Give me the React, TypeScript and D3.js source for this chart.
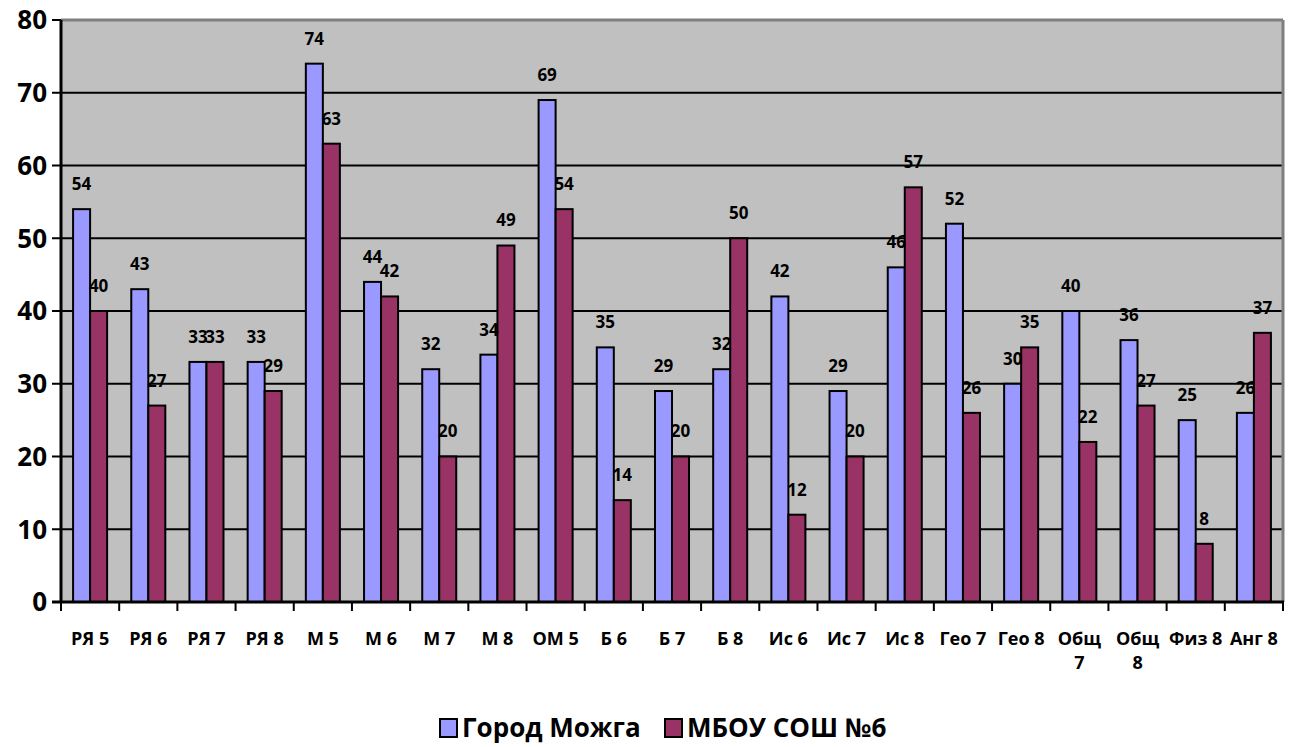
import { scaleBand, scaleLinear, range } from "d3";

const width = 1292;
const height = 747;

const categories = [
  "РЯ 5", "РЯ 6", "РЯ 7", "РЯ 8", "М 5", "М 6", "М 7", "М 8", "ОМ 5", "Б 6",
  "Б 7", "Б 8", "Ис 6", "Ис 7", "Ис 8", "Гео 7", "Гео 8", "Общ 7", "Общ 8",
  "Физ 8", "Анг 8",
];
const gorod = [54, 43, 33, 33, 74, 44, 32, 34, 69, 35, 29, 32, 42, 29, 46, 52, 30, 40, 36, 25, 26];
const shkola = [40, 27, 33, 29, 63, 42, 20, 49, 54, 14, 20, 50, 12, 20, 57, 26, 35, 22, 27, 8, 37];
const seriesNames = ["Город Можга", "МБОУ СОШ №6"];
const seriesColors = ["#9999FF", "#993366"];
const yTicks = [0, 10, 20, 30, 40, 50, 60, 70, 80];

const font = "'Open Sans', sans-serif";

export default function App() {
  const left = 61;
  const right = 1283;
  const top = 20;
  const bottom = 602;

  const x = scaleBand<string>().domain(categories).range([left, right]);
  const xi = scaleBand<string>()
    .domain(seriesNames)
    .range([0, x.bandwidth()])
    .paddingOuter(0.71);
  const y = scaleLinear().domain([0, 80]).range([bottom, top]);
  const series = [gorod, shkola];

  return (
    <svg
      width={width}
      height={height}
      style={{ position: "absolute", left: 0, top: 0, background: "#fff" }}
    >
      <rect x={left} y={top} width={right - left} height={bottom - top} fill="#C0C0C0" />
      {/* gridlines */}
      {yTicks.slice(1, -1).map((t) => (
        <line key={t} x1={left - 9} x2={right} y1={y(t)} y2={y(t)} stroke="#000" strokeWidth={2} />
      ))}
      <line x1={left} x2={right} y1={top} y2={top} stroke="#7f7f7f" strokeWidth={3} />
      <line x1={right} x2={right} y1={top} y2={bottom} stroke="#7f7f7f" strokeWidth={3} />
      <line x1={left - 9} x2={left} y1={top} y2={top} stroke="#000" strokeWidth={2} />
      <line x1={left - 9} x2={left} y1={bottom} y2={bottom} stroke="#000" strokeWidth={2} />
      {/* bars */}
      {categories.map((c, i) => (
        <g key={c}>
          {series.map((s, k) => {
            const bx = (x(c) ?? 0) + (xi(seriesNames[k]) ?? 0);
            return (
              <rect
                key={k}
                x={bx}
                y={y(s[i])}
                width={xi.bandwidth()}
                height={bottom - y(s[i])}
                fill={seriesColors[k]}
                stroke="#000"
                strokeWidth={2}
              />
            );
          })}
        </g>
      ))}
      {/* axes */}
      <line x1={left} x2={left} y1={top} y2={bottom + 1} stroke="#000" strokeWidth={3} />
      <line x1={left - 9} x2={right + 1} y1={bottom} y2={bottom} stroke="#000" strokeWidth={3} />
      {range(categories.length + 1).map((j) => {
        const tx = left + j * x.step();
        return <line key={j} x1={tx} x2={tx} y1={bottom} y2={bottom + 9} stroke="#000" strokeWidth={2} />;
      })}
      {yTicks.map((t) => (
        <text
          key={t}
          x={47}
          y={y(t)}
          dy="0.36em"
          textAnchor="end"
          fontFamily={font}
          fontWeight="bold"
          fontSize={26}
          fill="#000"
        >
          {t}
        </text>
      ))}
      {/* data labels */}
      {categories.map((c, i) => (
        <g key={"l" + c}>
          {series.map((s, k) => {
            const cx = (x(c) ?? 0) + (xi(seriesNames[k]) ?? 0) + xi.bandwidth() / 2;
            return (
              <text
                key={k}
                x={cx}
                y={y(s[i]) - 25}
                dy="0.35em"
                textAnchor="middle"
                fontFamily={font}
                fontWeight="bold"
                fontSize={17}
                fill="#000"
              >
                {s[i]}
              </text>
            );
          })}
        </g>
      ))}
      {/* category labels */}
      {categories.map((c) => {
        const cx = (x(c) ?? 0) + x.bandwidth() / 2;
        const lines = c.startsWith("Общ") ? c.split(" ") : [c];
        return (
          <text
            key={"c" + c}
            x={cx}
            y={645}
            textAnchor="middle"
            fontFamily={font}
            fontWeight="bold"
            fontSize={18}
            fill="#000"
          >
            {lines.map((ln, j) => (
              <tspan key={j} x={cx} dy={j === 0 ? 0 : 24}>
                {ln}
              </tspan>
            ))}
          </text>
        );
      })}
      {/* legend */}
      {seriesNames.map((n, k) => {
        const lx = k === 0 ? 440 : 665;
        return (
          <g key={n}>
            <rect x={lx} y={719} width={17} height={18} fill={seriesColors[k]} stroke="#000" strokeWidth={2} />
            <text
              x={lx + 22}
              y={728}
              dy="0.36em"
              fontFamily={font}
              fontWeight="bold"
              fontSize={26}
              fill="#000"
            >
              {n}
            </text>
          </g>
        );
      })}
    </svg>
  );
}
